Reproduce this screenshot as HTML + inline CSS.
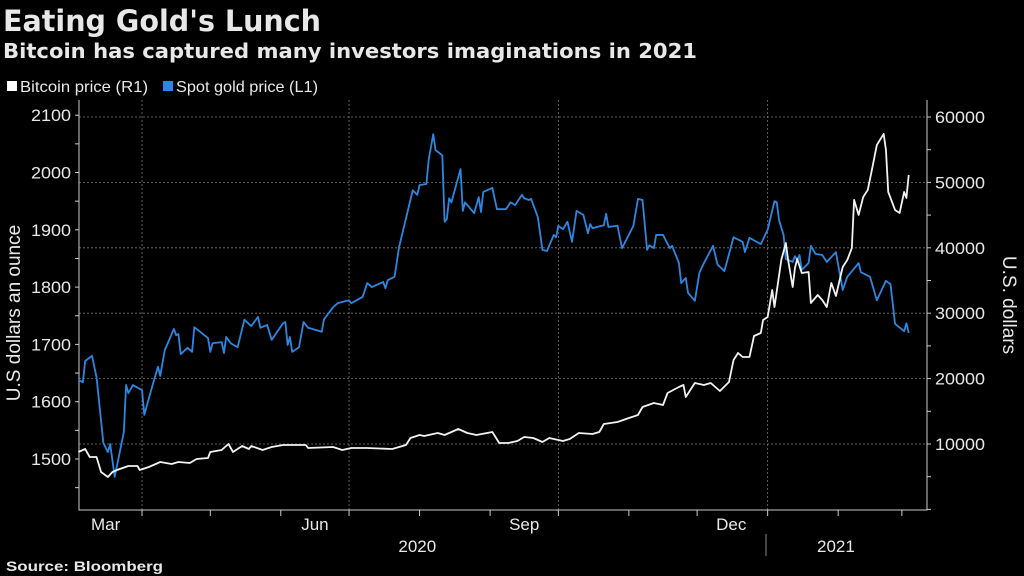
<!DOCTYPE html>
<html><head><meta charset="utf-8"><style>
html,body{margin:0;padding:0;background:#000;width:1024px;height:576px;overflow:hidden}
svg text{font-family:"Liberation Sans",sans-serif;fill:#e8e8e8}
</style></head><body>
<svg id="c" width="1024" height="576" viewBox="0 0 1024 576">
<text x="3" y="31" font-size="29" font-weight="bold" fill="#fff" textLength="318" lengthAdjust="spacingAndGlyphs" style="font-family:'DejaVu Sans',sans-serif">Eating Gold's Lunch</text>
<text x="3" y="58" font-size="20" font-weight="bold" fill="#fff" textLength="694" lengthAdjust="spacingAndGlyphs" style="font-family:'DejaVu Sans',sans-serif">Bitcoin has captured many investors imaginations in 2021</text>
<rect x="7" y="81" width="10" height="10" fill="#fff"/>
<text x="20" y="92" font-size="16" textLength="128" lengthAdjust="spacingAndGlyphs">Bitcoin price (R1)</text>
<rect x="163" y="81" width="10" height="10" fill="#2d87e0"/>
<text x="176" y="92" font-size="16" textLength="142" lengthAdjust="spacingAndGlyphs">Spot gold price (L1)</text>
<text transform="translate(20,313) rotate(-90)" text-anchor="middle" font-size="19">U.S dollars an ounce</text>
<text transform="translate(1003,305) rotate(90)" text-anchor="middle" font-size="19">U.S. dollars</text>
<text x="6" y="571" font-size="14" font-weight="bold" fill="#fff" textLength="157" lengthAdjust="spacingAndGlyphs">Source: Bloomberg</text>
<g id="g"></g>
</svg>
<script>
const goldDays=[3,5,6,9,11,14,16,17,19,23,24,25,27,31,32,35,38,39,41,45,46,47,48,51,53,54,60,61,62,66,67,68,70,73,76,79,82,83,86,88,93,94,95,96,97,100,102,104,110,111,115,117,122,123,128,130,132,137,138,139,142,144,150,152,153,156,157,159,160,163,164,165,166,167,171,172,173,177,179,180,181,185,187,191,193,195,198,199,201,202,205,207,209,212,213,214,216,218,220,222,225,227,228,229,234,235,236,240,242,247,249,251,253,254,256,257,260,263,264,267,268,270,271,274,276,278,282,284,287,291,295,296,298,303,306,309,310,311,313,314,317,318,319,320,321,324,325,327,330,332,336,339,341,346,347,351,354,358,360,362,366,367,368];
const goldValues=[1638,1634,1671,1680,1643,1528,1512,1526,1469,1547,1629,1615,1629,1620,1577,1620,1661,1645,1690,1727,1716,1718,1683,1694,1687,1730,1711,1687,1702,1704,1685,1713,1702,1695,1743,1732,1748,1729,1734,1708,1737,1739,1699,1713,1687,1695,1739,1729,1722,1744,1765,1772,1777,1772,1783,1807,1800,1809,1798,1812,1818,1870,1969,1961,1978,1980,2022,2067,2039,2030,1914,1919,1955,1948,2006,1933,1948,1929,1957,1931,1966,1973,1936,1936,1948,1943,1961,1955,1952,1954,1922,1865,1863,1891,1887,1907,1901,1914,1879,1933,1926,1894,1910,1903,1908,1928,1905,1907,1868,1907,1954,1952,1865,1873,1868,1891,1891,1868,1872,1842,1807,1816,1790,1776,1825,1842,1872,1839,1828,1887,1879,1861,1886,1875,1900,1950,1948,1917,1891,1849,1844,1854,1847,1856,1830,1842,1872,1858,1856,1844,1861,1795,1818,1842,1826,1818,1777,1811,1805,1736,1723,1737,1720];
const btcDays=[3,6,8,11,13,16,18,20,25,29,30,34,39,44,47,52,55,60,61,66,69,71,75,78,79,84,88,93,103,104,115,119,123,130,141,147,149,153,155,161,164,170,174,178,185,188,192,196,199,203,207,210,216,219,223,229,232,234,240,245,249,251,256,260,262,267,269,270,274,278,281,285,289,291,293,295,298,300,303,304,306,308,309,312,314,315,317,318,319,321,324,325,328,330,332,334,336,339,341,343,344,346,348,350,352,354,357,358,359,362,364,366,367,368];
const btcValues=[8776,9237,8012,8012,5719,4955,5719,6025,6636,6636,6025,6484,7247,6942,7247,7095,7706,7859,8777,9083,10000,8777,9694,9235,9694,9083,9541,9847,9847,9388,9541,9083,9388,9388,9235,9847,10917,11376,11223,11682,11376,12293,11682,11376,11835,10153,10153,10459,11070,10917,10306,10917,10459,10764,11682,11529,11835,13058,13364,13976,14434,15658,16270,15964,17799,18716,19022,17187,19327,19022,19327,18104,19480,22843,23914,23302,23302,26513,26972,28959,29418,33547,30947,38133,40733,38133,34005,36910,38287,36146,36299,31559,32782,32018,30947,34617,32629,37063,38133,39968,47317,45023,47775,48846,52209,55726,57408,54961,48540,45788,45329,48540,47622,51139];
const leftTicks=[1500,1600,1700,1800,1900,2000,2100];
const rightTicks=[10000,20000,30000,40000,50000,60000];
const monthTickDays=[31,61,92,122,153,184,214,245,275,306,337,365];
const monthLabels=["Mar","Jun","Sep","Dec"];
const monthLabelDays=[15,107,199,290];
const yearLabels=["2020","2021"];
const yearLabelDays=[152,336];

const X0=79,X1=927,Y0=510,Y1=100;
const xS=d=>71.5+d*2.275;
const yL=v=>459-(v-1500)*0.573;
const yR=v=>509.4-v*0.00654;
const NS="http://www.w3.org/2000/svg";
const g=document.getElementById('g');
function el(t,a,p){const e=document.createElementNS(NS,t);for(const k in a)e.setAttribute(k,a[k]);(p||g).appendChild(e);return e;}

rightTicks.forEach(v=>{const l=el('line',{x1:X0,x2:X1,y1:yR(v),y2:yR(v),stroke:'#777','stroke-width':0.8,'stroke-dasharray':'2,2'});

});
[31,122,214,306].forEach(d=>{const l=el('line',{x1:xS(d),x2:xS(d),y1:Y1,y2:Y0,stroke:'#777','stroke-width':0.8,'stroke-dasharray':'2,2'});

});
const ax=el('path',{d:`M${X0},${Y1}V${Y0}H${X1}V${Y1}`,stroke:'#ccc','stroke-width':1,fill:'none'});


for(let v=1450;v<=2100;v+=50){const y=yL(v);if(y<Y1||y>Y0)continue;el('line',{x1:X0-4,x2:X0,y1:y,y2:y,stroke:'#ccc'});}
leftTicks.forEach(v=>{const t=el('text',{x:X0-8,y:yL(v)+6,'text-anchor':'end','font-size':17,textLength:40,lengthAdjust:'spacingAndGlyphs'});t.textContent=v;

});
for(let v=0;v<=60000;v+=5000){const y=yR(v);el('line',{x1:X1,x2:X1+4,y1:y,y2:y,stroke:'#ccc'});}
rightTicks.forEach(v=>{const t=el('text',{x:X1+8,y:yR(v)+6,'font-size':17,textLength:v>=10000?50:40,lengthAdjust:'spacingAndGlyphs'});t.textContent=v;

});
monthTickDays.forEach(d=>el('line',{x1:xS(d),x2:xS(d),y1:Y0,y2:Y0+6,stroke:'#ccc'}));
monthLabels.forEach((m,i)=>{const t=el('text',{x:xS(monthLabelDays[i]),y:Y0+20,'text-anchor':'middle','font-size':17});t.textContent=m;

});
yearLabels.forEach((m,i)=>{const t=el('text',{x:xS(yearLabelDays[i]),y:Y0+42,'text-anchor':'middle','font-size':17});t.textContent=m;

});
el('line',{x1:766,x2:766,y1:534,y2:556,stroke:'#888'});
const pg=el('polyline',{points:goldDays.map((d,i)=>xS(d)+','+yL(goldValues[i])).join(' '),fill:'none',stroke:'#2d87e0','stroke-width':1.8,'stroke-linejoin':'round'});


const pb=el('polyline',{points:btcDays.map((d,i)=>xS(d)+','+yR(btcValues[i])).join(' '),fill:'none',stroke:'#f2f2f2','stroke-width':1.8,'stroke-linejoin':'round'});


</script>
</body></html>
